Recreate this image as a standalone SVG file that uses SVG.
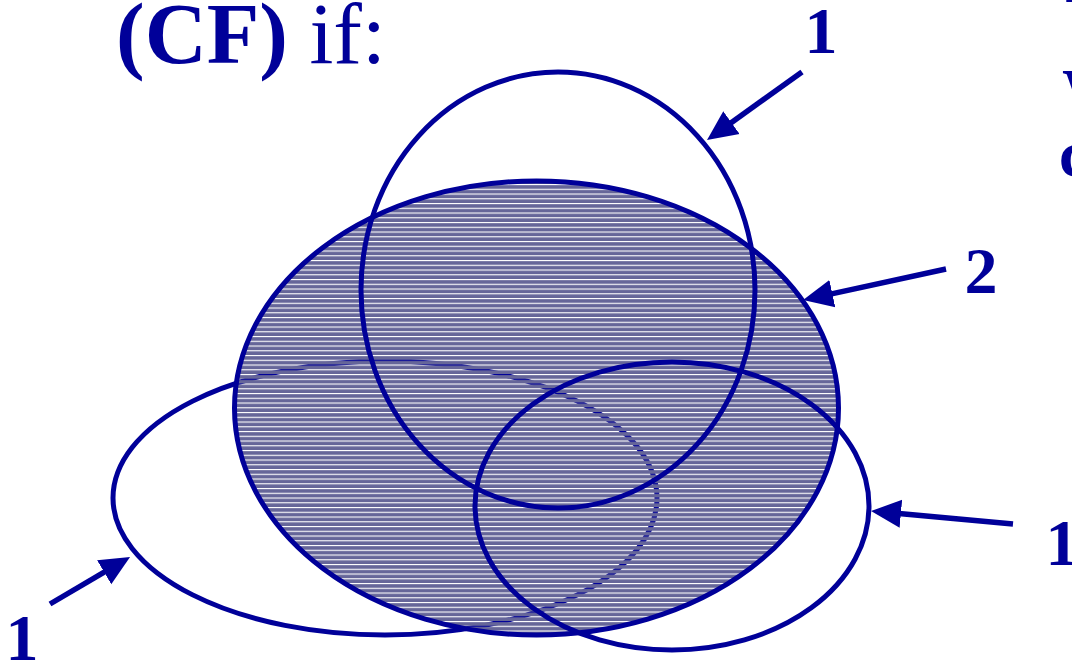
<svg xmlns="http://www.w3.org/2000/svg" width="1072" height="663" viewBox="0 0 1072 663">
<style>
  .ring { fill: none; stroke: #000099; stroke-width: 5; }
  .lbl { font-family: "Liberation Serif", "Times New Roman", serif; font-weight: bold; fill: #000099; font-size: 66px; text-anchor: middle; }
  .edge { font-family: "Liberation Serif", "Times New Roman", serif; font-weight: bold; fill: #000099; font-size: 66px; text-anchor: start; }
  .title { font-family: "Liberation Serif", "Times New Roman", serif; fill: #000099; font-size: 86px; }
  .arrow { stroke: #000099; stroke-width: 5.5; fill: none; marker-end: url(#head); }
</style>
<defs>
  <pattern id="hatch" patternUnits="userSpaceOnUse" x="0" y="3.5" width="20" height="4.75">
    <rect x="0" y="1.1" width="20" height="3.65" fill="#666699"/>
  </pattern>
  <marker id="head" markerUnits="userSpaceOnUse" markerWidth="40" markerHeight="40" refX="2" refY="0" viewBox="0 -20 40 40" orient="auto">
    <path d="M0,-14 L30,0 L0,14 z" fill="#000099"/>
  </marker>
</defs>
<rect width="1072" height="663" fill="#ffffff"/>
<g id="title">
  <text class="title" x="116" y="63"><tspan font-weight="bold">(CF)</tspan> if:</text>
</g>
<g id="edge-text">
  <text class="edge" x="1061" y="2">1</text>
  <text class="edge" x="1062" y="114">W</text>
  <text class="edge" x="1059" y="176" font-weight="normal">c</text>
</g>
<g id="set-lower-left">
  <ellipse class="ring" cx="385" cy="498" rx="272" ry="137"/>
</g>
<g id="set-2">
  <ellipse cx="536.5" cy="408" rx="302" ry="227" fill="url(#hatch)" stroke="#000099" stroke-width="5"/>
</g>
<g id="set-top">
  <ellipse class="ring" cx="558" cy="290" rx="197" ry="218"/>
</g>
<g id="set-lower-right">
  <ellipse class="ring" cx="672" cy="506" rx="197" ry="144"/>
</g>
<g id="connectors">
  <line class="arrow" x1="802" y1="72" x2="729.8" y2="123.7"/>
  <line class="arrow" x1="946" y1="269" x2="830.4" y2="294.1"/>
  <line class="arrow" x1="1013" y1="524" x2="898.9" y2="513.6"/>
  <line class="arrow" x1="50" y1="604" x2="105.9" y2="571.2"/>
</g>
<g id="labels">
  <text class="lbl" x="821" y="53">1</text>
  <text class="lbl" x="981" y="293">2</text>
  <text class="lbl" x="1062" y="565">1</text>
  <text class="lbl" x="22" y="660">1</text>
</g>
</svg>
